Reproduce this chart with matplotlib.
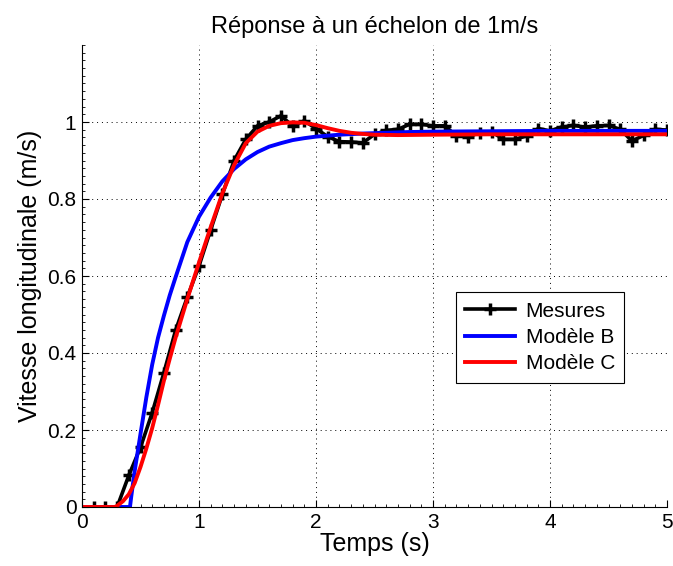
import numpy as np
import matplotlib
matplotlib.use('Agg')
import matplotlib.pyplot as plt
from matplotlib.ticker import MultipleLocator

# mesures (pas de 0.1 s)
t_mes = [0.1, 0.2, 0.3, 0.4, 0.5, 0.6, 0.7, 0.8, 0.9, 1.0,
         1.1, 1.2, 1.3, 1.4, 1.5, 1.6, 1.7, 1.8, 1.9, 2.0,
         2.1, 2.2, 2.3, 2.4, 2.5, 2.6, 2.7, 2.8, 2.9, 3.0,
         3.1, 3.2, 3.3, 3.4, 3.5, 3.6, 3.7, 3.8, 3.9, 4.0,
         4.1, 4.2, 4.3, 4.4, 4.5, 4.6, 4.7, 4.8, 4.9, 5.0]
v_mes = [0, 0, 0, 0.082, 0.155, 0.245, 0.349, 0.459, 0.545, 0.626,
         0.72, 0.812, 0.9, 0.955, 0.99, 1.0, 1.016, 0.99, 1.003, 0.983,
         0.962, 0.949, 0.948, 0.946, 0.968, 0.978, 0.981, 0.994, 0.994, 0.99,
         0.99, 0.964, 0.962, 0.972, 0.975, 0.955, 0.955, 0.964, 0.983, 0.977,
         0.987, 0.991, 0.987, 0.99, 0.991, 0.981, 0.951, 0.965, 0.981, 0.979]

# modele B
t_b = [0, 0.41, 0.42, 0.45, 0.5, 0.55, 0.6, 0.65, 0.7, 0.75, 0.8, 0.9, 1.0,
       1.1, 1.2, 1.3, 1.4, 1.5, 1.6, 1.7, 1.8, 1.9, 2.0, 2.2, 2.4, 2.6,
       2.8, 3.0, 3.5, 4.0, 4.5, 5.0]
v_b = [0, 0, 0.025, 0.093, 0.19, 0.285, 0.37, 0.44, 0.497, 0.55, 0.597, 0.688, 0.754,
       0.804, 0.846, 0.878, 0.903, 0.922, 0.936, 0.945, 0.953, 0.958, 0.962, 0.967, 0.970, 0.972,
       0.974, 0.975, 0.976, 0.977, 0.977, 0.977]

# modele C
t_c = [0, 0.28, 0.3, 0.35, 0.4, 0.45, 0.5, 0.55, 0.6, 0.65, 0.7, 0.75, 0.8,
       0.85, 0.9, 0.95, 1.0, 1.1, 1.2, 1.3, 1.4, 1.5, 1.6, 1.7, 1.8, 1.9,
       2.0, 2.1, 2.2, 2.3, 2.4, 2.5, 2.7, 3.0, 3.5, 4.0, 5.0]
v_c = [0, 0, 0.003, 0.015, 0.033, 0.062, 0.104, 0.152, 0.205, 0.265, 0.328, 0.385, 0.44,
       0.49, 0.54, 0.588, 0.635, 0.727, 0.815, 0.888, 0.945, 0.975, 0.99, 0.997, 0.999, 0.998,
       0.992, 0.984, 0.977, 0.972, 0.969, 0.967, 0.966, 0.967, 0.968, 0.968, 0.968]

plt.rcParams['font.family'] = ['Liberation Sans', 'DejaVu Sans']

fig = plt.figure(figsize=(6.73, 5.66), dpi=100)
ax = fig.add_axes([82/673, (566-507)/566, 585/673, 462/566])

ax.plot(t_mes, v_mes, color='k', lw=2.6, marker='+', ms=8, mew=2.5, label='Mesures')
ax.plot(t_b, v_b, color='#0000ff', lw=2.8, label='Modèle B')
ax.plot(t_c, v_c, color='#ff0000', lw=2.8, label='Modèle C')

ax.set_xlim(0, 5)
ax.set_ylim(0, 1.2)
ax.set_xticks([0, 1, 2, 3, 4, 5])
ax.set_yticks([0, 0.2, 0.4, 0.6, 0.8, 1.0])
ax.set_yticklabels(['0', '0.2', '0.4', '0.6', '0.8', '1'])
ax.xaxis.set_minor_locator(MultipleLocator(0.1))
ax.yaxis.set_minor_locator(MultipleLocator(0.02))
ax.tick_params(which='both', direction='in', top=False, right=False, labelsize=15)
ax.tick_params(which='major', length=5, pad=4)
ax.tick_params(which='minor', length=2.5)
ax.spines['top'].set_visible(False)
ax.spines['right'].set_visible(False)
ax.grid(True, which='major', linestyle=(0, (1, 4)), color='k', lw=0.7)

ax.set_xlabel('Temps (s)', fontsize=18, labelpad=0)
ax.set_ylabel('Vitesse longitudinale (m/s)', fontsize=18, labelpad=4)
ax.set_title('Réponse à un échelon de 1m/s', fontsize=17, pad=9)

leg = ax.legend(loc='upper left', bbox_to_anchor=(0.639, 0.465), borderaxespad=0,
                fontsize=15, fancybox=False, framealpha=1, edgecolor='k',
                handlelength=2.4, handletextpad=0.5, labelspacing=0.35, borderpad=0.45)
leg.get_frame().set_linewidth(0.8)

fig.savefig('out.png', dpi=100)
